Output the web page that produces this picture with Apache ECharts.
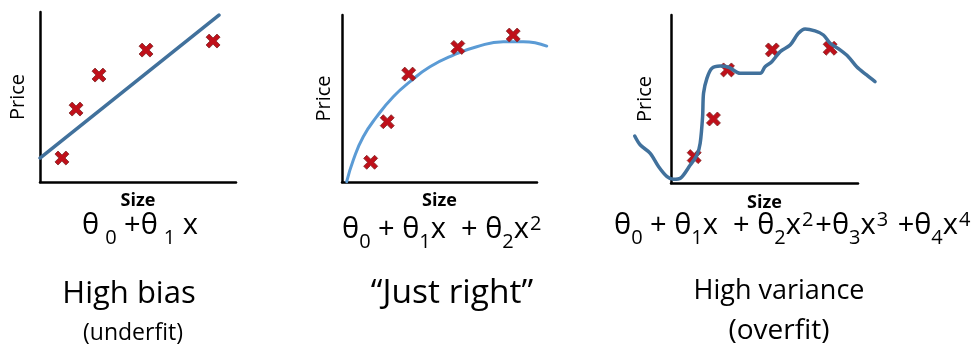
<!DOCTYPE html>
<html>
<head>
<meta charset="utf-8">
<script src="https://cdn.jsdelivr.net/npm/echarts@6/dist/echarts.min.js"></script>
<style>
  html, body { margin: 0; padding: 0; background: #ffffff; }
  #chart { width: 974px; height: 344px; }
</style>
</head>
<body>
<div id="chart"></div>
<script>
// Training points and fitted curves for three model complexities (x = size, y = price, both 0..100)

// Linear model (underfit)
const biasPointsX = [11.2, 18.4, 30.1, 54.1, 88.3];
const biasPointsY = [14.1, 42.9, 62.9, 77.6, 82.9];
const biasFitX = [0, 91.3];
const biasFitY = [14.1, 98.2];

// Quadratic model (good fit)
const rightPointsX = [14.7, 23.2, 34.2, 59.4, 87.8];
const rightPointsY = [11.8, 36.1, 64.6, 80.6, 88.0];
const rightFitX = [2.4, 5.8, 10.9, 17.8, 26.3, 34.9, 45.1, 57.1, 69.1, 82.7, 93.0, 105.0];
const rightFitY = [0.2, 13.2, 27.1, 39.1, 51.1, 60.1, 69.0, 76.0, 81.0, 84.0, 84.0, 81.4];

// Fourth-order model (overfit)
const varPointsX = [12.4, 22.7, 30.2, 54.2, 85.1];
const varPointsY = [15.7, 38.1, 67.3, 79.2, 80.2];
const varFitX = [-19.4, -16.4, -11.1, -6.6, -2.1, 1.4, 5.0, 10.3, 13.9, 15.6, 16.9, 17.4, 19.2, 21.9, 26.3, 30.8, 37.0, 47.7, 50.3, 53.9, 58.4, 63.7, 68.1, 71.7, 77.0, 81.5, 85.1, 90.4, 94.8, 99.3, 104.6, 109.1];
const varFitY = [28.0, 22.6, 17.7, 9.7, 3.8, 2.2, 2.8, 10.7, 16.7, 23.6, 39.5, 53.4, 62.3, 68.3, 69.6, 68.9, 65.3, 65.3, 69.2, 72.2, 78.2, 82.1, 89.1, 91.7, 90.5, 88.1, 83.2, 79.2, 75.2, 69.2, 64.3, 60.3];

// Axis titles
const xAxisTitle = 'Size';
const yAxisTitle = 'Price';

// Captions under each panel
const captionTitles = ['High bias', '\u201CJust right\u201D', 'High variance'];
const captionNotes = ['(underfit)', '', '(overfit)'];

const pairs = (xs, ys) => xs.map((x, i) => [x, ys[i]]);

const FONT = '"Open Sans", "Noto Sans", sans-serif';
const CROSS = 'path://M0,2.2 L2.2,0 L5,2.8 L7.8,0 L10,2.2 L7.2,5 L10,7.8 L7.8,10 L5,7.2 L2.2,10 L0,7.8 L2.8,5 Z';

// Visible panels (axes span 0..100 in both directions)
const panels = [
  { left: 40, top: 12, width: 196, height: 170 },
  { left: 342, top: 15, width: 195, height: 167 },
  { left: 671, top: 15, width: 187, height: 168 }
];
// Curves run past the axis box, so they sit on wider hidden grids sharing the same scale
const overlayRange = [null, [0, 110], [-25, 115]];

const grids = panels.slice();
const overlayIndex = [0, null, null];
overlayRange.forEach((r, i) => {
  if (!r) return;
  const p = panels[i];
  const unit = p.width / 100;
  overlayIndex[i] = grids.length;
  grids.push({ left: p.left + r[0] * unit, top: p.top, width: (r[1] - r[0]) * unit, height: p.height });
});

const priceGap = [12, 8, 16];
const sizeGap = [10, 10, 11];

function axisBase(i, show) {
  return {
    gridIndex: i, type: 'value', min: 0, max: 100, show,
    axisLine: { show: true, onZero: false, lineStyle: { color: '#000', width: 2.5 } },
    axisTick: { show: false }, axisLabel: { show: false }, splitLine: { show: false }
  };
}

const xAxes = panels.map((g, i) => Object.assign(axisBase(i, true), {
  name: xAxisTitle, nameLocation: 'middle', nameGap: sizeGap[i],
  nameTextStyle: { fontFamily: FONT, fontWeight: 'bold', fontSize: 18, color: '#000', verticalAlign: 'top' }
}));
const yAxes = panels.map((g, i) => Object.assign(axisBase(i, true), {
  name: yAxisTitle, nameLocation: 'middle', nameGap: priceGap[i], nameRotate: 90,
  nameTextStyle: { fontFamily: FONT, fontSize: 20, color: '#000', verticalAlign: 'bottom' }
}));
overlayRange.forEach((r, i) => {
  if (!r) return;
  xAxes.push(Object.assign(axisBase(overlayIndex[i], false), { min: r[0], max: r[1] }));
  yAxes.push(axisBase(overlayIndex[i], false));
});

function crossSeries(i, data, z) {
  return {
    type: 'scatter', xAxisIndex: i, yAxisIndex: i, data, z,
    symbol: CROSS, symbolSize: 14,
    itemStyle: { color: '#C0101A', borderColor: '#7d2626', borderWidth: 0.8, opacity: 1 },
    emphasis: { disabled: true }, clip: false
  };
}
function fitSeries(i, data, color, width, smooth, z) {
  return {
    type: 'line', xAxisIndex: i, yAxisIndex: i, data, z,
    showSymbol: false, smooth, clip: false,
    lineStyle: { color, width, cap: 'round', join: 'round' },
    emphasis: { disabled: true }
  };
}

// Rich-text formula pieces: t = main, s = subscript, w = spaced subscript, p = superscript
const richStyles = {
  t: { fontFamily: FONT, fontSize: 29, lineHeight: 36, color: '#000' },
  s: { fontFamily: FONT, fontSize: 20, lineHeight: 22, padding: [24, 0, 0, 0], color: '#000' },
  w: { fontFamily: FONT, fontSize: 20, lineHeight: 22, padding: [24, 0, 0, 6], color: '#000' },
  p: { fontFamily: FONT, fontSize: 20, lineHeight: 22, padding: [0, 2, 12, 1], color: '#000' }
};
const formulas = [
  { x: 82, y: 226, text: '{t|\u03B8}{w|0}{t| +\u03B8}{w|1}{t| x}' },
  { x: 342, y: 230, text: '{t|\u03B8}{s|0}{t| + \u03B8}{s|1}{t|x  + \u03B8}{s|2}{t|x}{p|2}' },
  { x: 614, y: 226, text: '{t|\u03B8}{s|0}{t| + \u03B8}{s|1}{t|x  + \u03B8}{s|2}{t|x}{p|2}{t|+\u03B8}{s|3}{t|x}{p|3}{t| +\u03B8}{s|4}{t|x}{p|4}' }
];

const captionX = [129, 452, 779];
const captionY = [294, 293, 291];
const titleSizes = [31, 33.5, 27];
const noteX = [133, 0, 779];
const noteY = [333, 0, 331];
const noteSizes = [23, 0, 28];

const graphics = [];
formulas.forEach(f => graphics.push({
  type: 'text', x: f.x, y: f.y,
  style: { text: f.text, rich: richStyles, align: 'left', verticalAlign: 'middle' }
}));
captionTitles.forEach((t, i) => graphics.push({
  type: 'text', x: captionX[i], y: captionY[i],
  style: { text: t, font: titleSizes[i] + 'px ' + FONT, fill: '#000', align: 'center', verticalAlign: 'middle' }
}));
captionNotes.forEach((t, i) => { if (t) graphics.push({
  type: 'text', x: noteX[i], y: noteY[i],
  style: { text: t, font: noteSizes[i] + 'px ' + FONT, fill: '#000', align: 'center', verticalAlign: 'middle' }
}); });

const chart = echarts.init(document.getElementById('chart'), null, { renderer: 'canvas' });
chart.setOption({
  backgroundColor: '#ffffff',
  animation: false,
  grid: grids,
  xAxis: xAxes,
  yAxis: yAxes,
  series: [
    crossSeries(0, pairs(biasPointsX, biasPointsY), 2),
    fitSeries(0, pairs(biasFitX, biasFitY), '#41719C', 3.5, false, 3),
    fitSeries(overlayIndex[1], pairs(rightFitX, rightFitY), '#5B9BD5', 3, 0.5, 2),
    crossSeries(1, pairs(rightPointsX, rightPointsY), 3),
    crossSeries(2, pairs(varPointsX, varPointsY), 2),
    fitSeries(overlayIndex[2], pairs(varFitX, varFitY), '#41719C', 3.5, 0.3, 3)
  ],
  graphic: graphics
});
</script>
</body>
</html>
